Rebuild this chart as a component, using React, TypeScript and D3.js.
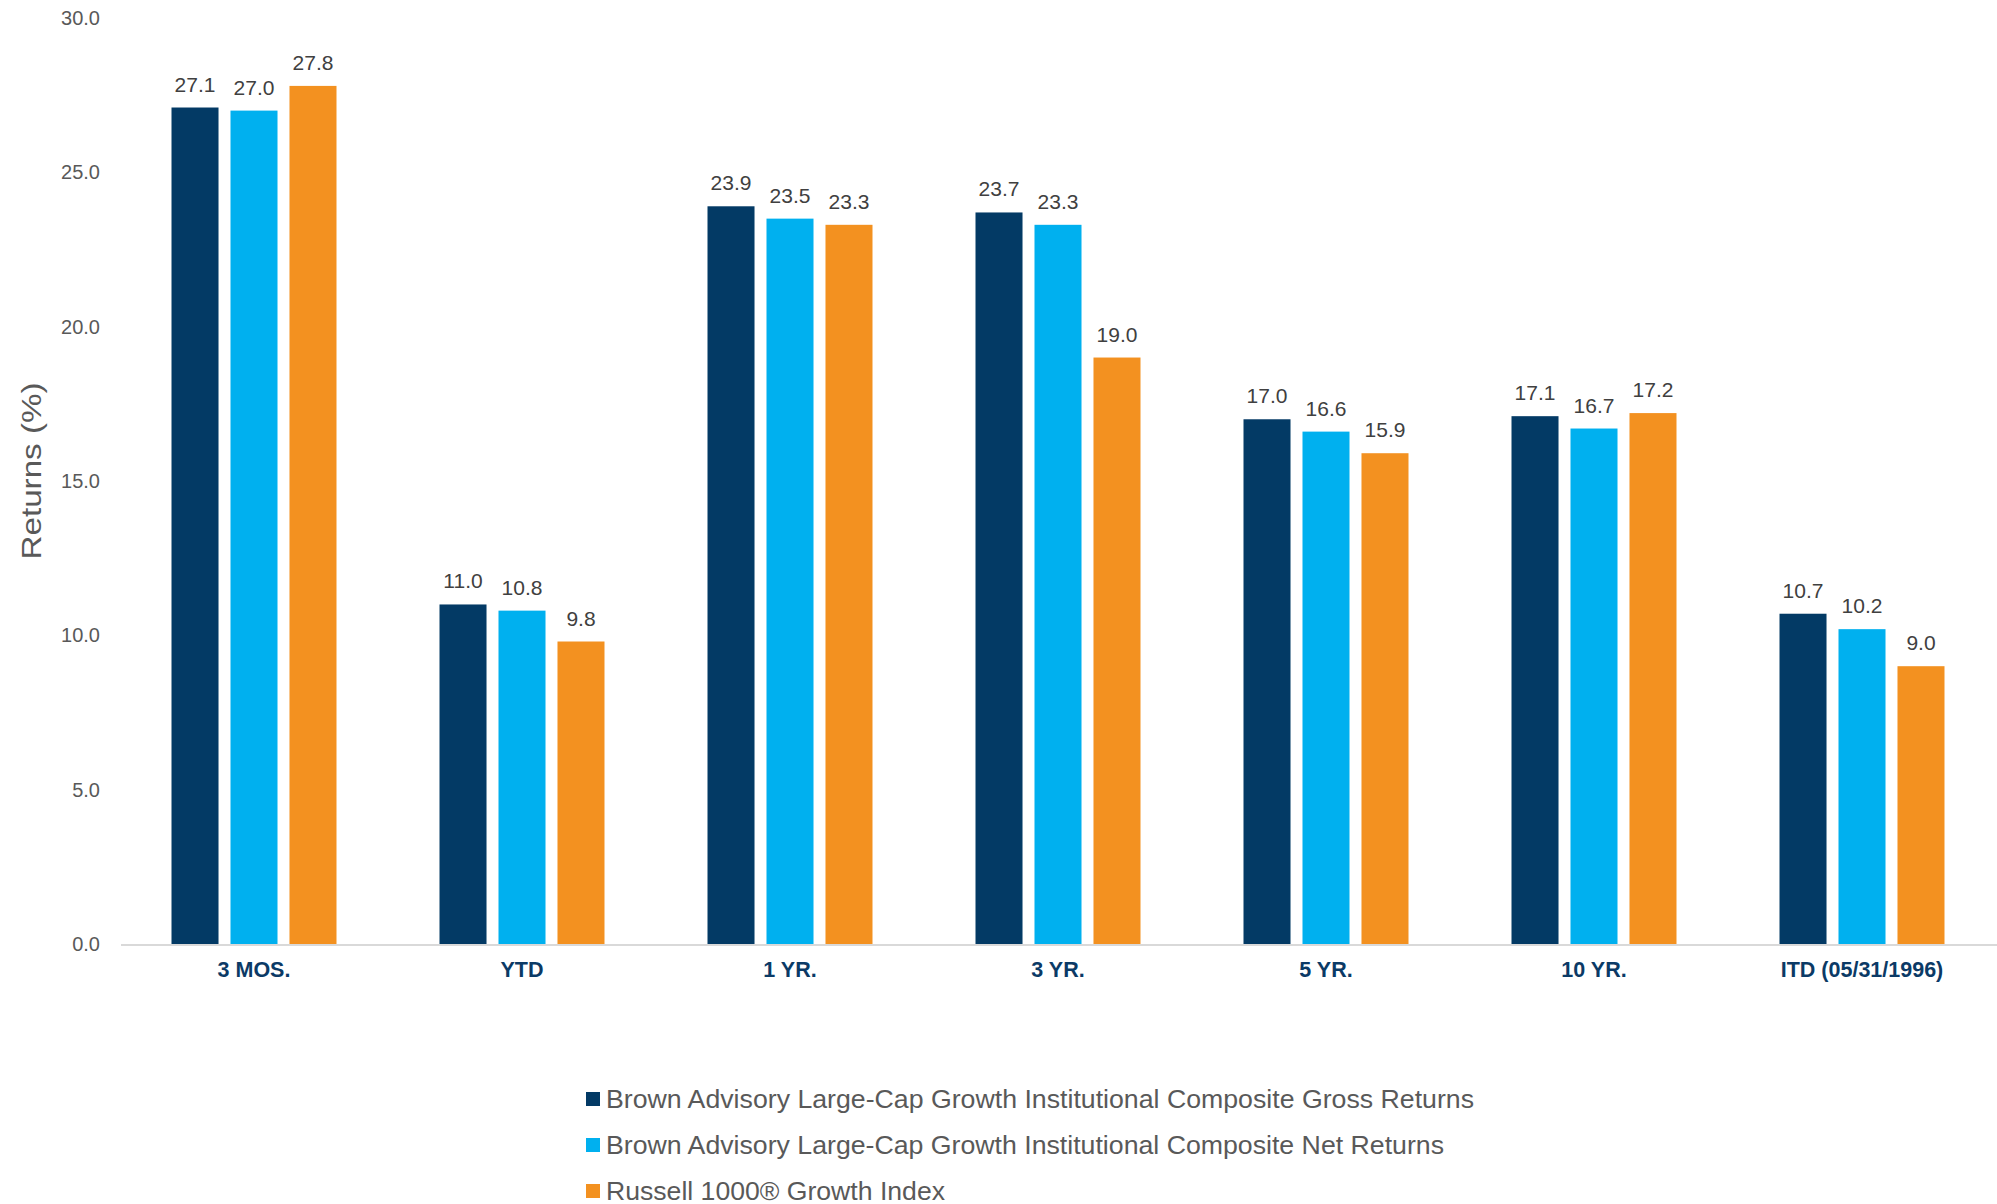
import React, { useEffect } from "react";
import * as d3 from "d3";

const categories = ["3 MOS.", "YTD", "1 YR.", "3 YR.", "5 YR.", "10 YR.", "ITD (05/31/1996)"];
const seriesNames = [
  "Brown Advisory Large-Cap Growth Institutional Composite Gross Returns",
  "Brown Advisory Large-Cap Growth Institutional Composite Net Returns",
  "Russell 1000® Growth Index",
];
const grossReturns = [27.1, 11.0, 23.9, 23.7, 17.0, 17.1, 10.7];
const netReturns = [27.0, 10.8, 23.5, 23.3, 16.6, 16.7, 10.2];
const russellReturns = [27.8, 9.8, 23.3, 19.0, 15.9, 17.2, 9.0];
const yTicks = [0, 5, 10, 15, 20, 25, 30];
const colors = ["#033A65", "#00B0EF", "#F39120"];

const W = 1997;
const H = 1204;

export default function App() {
  useEffect(() => {
    document.body.style.margin = "0";
  }, []);

  const series = [grossReturns, netReturns, russellReturns];
  const x0 = d3.scaleBand<string>().domain(categories).range([120, 1996]).padding(0);
  const x1 = d3
    .scaleBand<number>()
    .domain([0, 1, 2])
    .range([0, x0.bandwidth()])
    .paddingInner(0.203)
    .paddingOuter(0.873);
  const y = d3.scaleLinear().domain([0, 30]).range([944, 18]);
  const font = "Liberation Sans, Arial, sans-serif";
  const legendLens = [868, 838, 339];

  return (
    <svg width={W} height={H} style={{ display: "block" }} fontFamily={font}>
      <rect x={0} y={0} width={W} height={H} fill="#fff" />
      {yTicks.map((t) => (
        <text key={t} x={100} y={y(t)} dy="0.35em" textAnchor="end" fontSize={20} fill="#595959">
          {d3.format(".1f")(t)}
        </text>
      ))}
      <text
        transform={`translate(31,${471}) rotate(-90)`}
        textAnchor="middle"
        dy="0.35em"
        fontSize={28}
        fill="#595959"
        textLength={177}
        lengthAdjust="spacingAndGlyphs"
      >
        Returns (%)
      </text>
      {categories.map((c, i) => (
        <g key={c} transform={`translate(${x0(c)},0)`}>
          {series.map((s, k) => (
            <g key={k}>
              <rect
                x={x1(k)}
                y={y(s[i])}
                width={x1.bandwidth()}
                height={y(0) - y(s[i])}
                fill={colors[k]}
              />
              <text
                x={(x1(k) as number) + x1.bandwidth() / 2}
                y={y(s[i]) - 16}
                textAnchor="middle"
                fontSize={21}
                fill="#404040"
              >
                {d3.format(".1f")(s[i])}
              </text>
            </g>
          ))}
          <text
            x={x0.bandwidth() / 2}
            y={977}
            textAnchor="middle"
            fontSize={21.5}
            fontWeight="bold"
            fill="#0B3A66"
          >
            {c}
          </text>
        </g>
      ))}
      <line x1={121} x2={1997} y1={y(0) + 1} y2={y(0) + 1} stroke="#D9D9D9" strokeWidth={2} />
      {seriesNames.map((n, k) => (
        <g key={n} transform={`translate(586,${1099 + k * 46})`}>
          <rect x={0} y={-7} width={14} height={14} fill={colors[k]} />
          <text
            x={20}
            y={0}
            dy="0.35em"
            fontSize={25}
            fill="#595959"
            textLength={legendLens[k]}
            lengthAdjust="spacingAndGlyphs"
          >
            {n}
          </text>
        </g>
      ))}
    </svg>
  );
}
